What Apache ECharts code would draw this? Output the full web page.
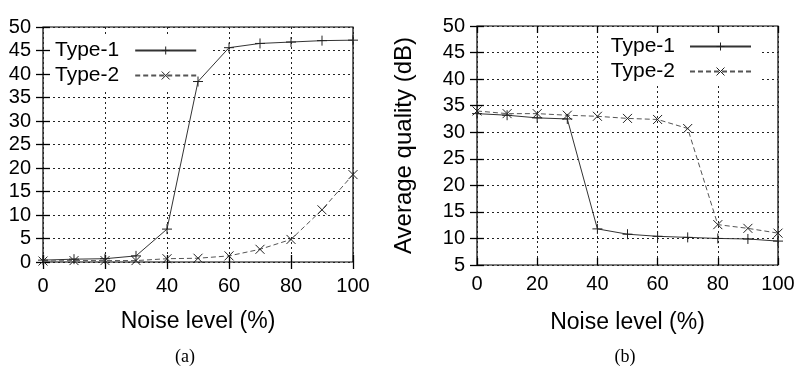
<!DOCTYPE html>
<html>
<head>
<meta charset="utf-8">
<script src="https://cdn.jsdelivr.net/npm/echarts@6/dist/echarts.min.js"></script>
<style>html,body{margin:0;padding:0;background:#fff}#c{width:810px;height:370px}</style>
</head>
<body>
<div id="c"></div>
<script>
const noise = [0, 10, 20, 30, 40, 50, 60, 70, 80, 90, 100];
const aType1 = [0.4, 0.6, 0.7, 1.3, 7.0, 38.4, 45.6, 46.5, 46.8, 47.1, 47.2];
const aType2 = [0.2, 0.3, 0.3, 0.3, 0.7, 0.8, 1.3, 2.7, 4.8, 11.1, 18.6];
const bType1 = [33.5, 33.2, 32.7, 32.5, 11.8, 10.8, 10.4, 10.2, 10.0, 9.9, 9.5];
const bType2 = [34.0, 33.5, 33.5, 33.2, 33.0, 32.6, 32.4, 30.7, 12.6, 11.9, 11.0];
const xTitle = 'Noise level (%)';
const yTitleB = 'Average quality (dB)';
const seriesNames = ['Type-1', 'Type-2'];
const panelLabels = ['(a)', '(b)'];

const FONT = 'Liberation Sans, Arial, sans-serif';
const plusSym = 'path://M5,0L5,10M0,5L10,5';
const crossSym = 'path://M0,0L10,10M10,0L0,10';
const pair = (xs, ys) => xs.map((x, i) => [x, ys[i]]);
const tick = { inside: true, length: 7, lineStyle: { color: '#000', width: 1.3 } };

function xAxes(gi, labelMargin) {
  return [
    { gridIndex: gi, type: 'value', min: 0, max: 100, interval: 20, position: 'bottom',
      name: xTitle, nameLocation: 'middle', nameGap: gi === 0 ? 48 : 46,
      nameTextStyle: { fontFamily: FONT, fontSize: 23, color: '#000' },
      axisLine: { show: false }, axisTick: tick,
      axisLabel: { fontFamily: FONT, fontSize: 20, color: '#000', margin: labelMargin },
      splitLine: { show: true, lineStyle: { color: '#222', type: [2, 3], width: 1 } } },
    { gridIndex: gi, type: 'value', min: 0, max: 100, interval: 20, position: 'top',
      axisLine: { show: false }, axisTick: tick,
      axisLabel: { show: false }, splitLine: { show: false } }
  ];
}
function yAxes(gi, min, withName) {
  const main = { gridIndex: gi, type: 'value', min: min, max: 50, interval: 5, position: 'left',
      axisLine: { show: false }, axisTick: tick,
      axisLabel: { fontFamily: FONT, fontSize: 20, color: '#000', margin: 12 },
      splitLine: { show: true, lineStyle: { color: '#222', type: [2, 3], width: 1 } } };
  if (withName) {
    main.name = yTitleB; main.nameLocation = 'middle'; main.nameGap = 61;
    main.nameTextStyle = { fontFamily: FONT, fontSize: 24, color: '#000' };
  }
  return [main,
    { gridIndex: gi, type: 'value', min: min, max: 50, interval: 5, position: 'right',
      axisLine: { show: false }, axisTick: tick,
      axisLabel: { show: false }, splitLine: { show: false } }];
}
function mkSeries(name, data, xi, yi, dashed) {
  return {
    name: name, type: 'line', xAxisIndex: xi, yAxisIndex: yi, data: data,
    symbol: dashed ? crossSym : plusSym, symbolSize: dashed ? 9 : 10, showSymbol: true,
    lineStyle: { color: dashed ? '#555' : '#333', width: 1, type: dashed ? [5, 3] : 'solid' },
    itemStyle: { color: 'rgba(0,0,0,0)', borderColor: '#222', borderWidth: 1 },
    z: 3, animation: false
  };
}

const legendBase = {
  orient: 'vertical', itemWidth: 61, itemHeight: 10, itemGap: 4,
  backgroundColor: '#fff', z: 1, data: seriesNames,
  itemStyle: { borderWidth: 1 },
  textStyle: { fontFamily: FONT, fontSize: 21, color: '#000' }
};

const option = {
  animation: false,
  backgroundColor: '#fff',
  grid: [
    { left: 43, top: 27, width: 310, height: 235, show: true, borderColor: '#000', borderWidth: 1.2, backgroundColor: 'transparent' },
    { left: 477, top: 26, width: 301, height: 239, show: true, borderColor: '#000', borderWidth: 1.2, backgroundColor: 'transparent' }
  ],
  title: [
    { text: panelLabels[0], left: 180, top: 343, textAlign: 'center',
      textStyle: { fontFamily: 'Liberation Serif, Times New Roman, serif', fontSize: 18, fontWeight: 'normal', color: '#000' } },
    { text: panelLabels[1], left: 620, top: 343, textAlign: 'center',
      textStyle: { fontFamily: 'Liberation Serif, Times New Roman, serif', fontSize: 18, fontWeight: 'normal', color: '#000' } }
  ],
  legend: [
    Object.assign({}, legendBase, { left: 50, top: 37, align: 'right', padding: [3, 14, 3, 5],
      textStyle: Object.assign({}, legendBase.textStyle, { padding: [0, 11, 0, 0] }) }),
    Object.assign({}, legendBase, { right: 48, top: 33, align: 'right', padding: [3, 10, 3, 12],
      textStyle: Object.assign({}, legendBase.textStyle, { padding: [0, 10, 0, 0] }) })
  ],
  xAxis: xAxes(0, 14).concat(xAxes(1, 9)),
  yAxis: yAxes(0, 0, false).concat(yAxes(1, 5, true)),
  series: [
    mkSeries(seriesNames[0], pair(noise, aType1), 0, 0, false),
    mkSeries(seriesNames[1], pair(noise, aType2), 0, 0, true),
    mkSeries(seriesNames[0], pair(noise, bType1), 2, 2, false),
    mkSeries(seriesNames[1], pair(noise, bType2), 2, 2, true)
  ]
};
const chart = echarts.init(document.getElementById('c'), null, { renderer: 'canvas' });
chart.setOption(option);
</script>
</body>
</html>
